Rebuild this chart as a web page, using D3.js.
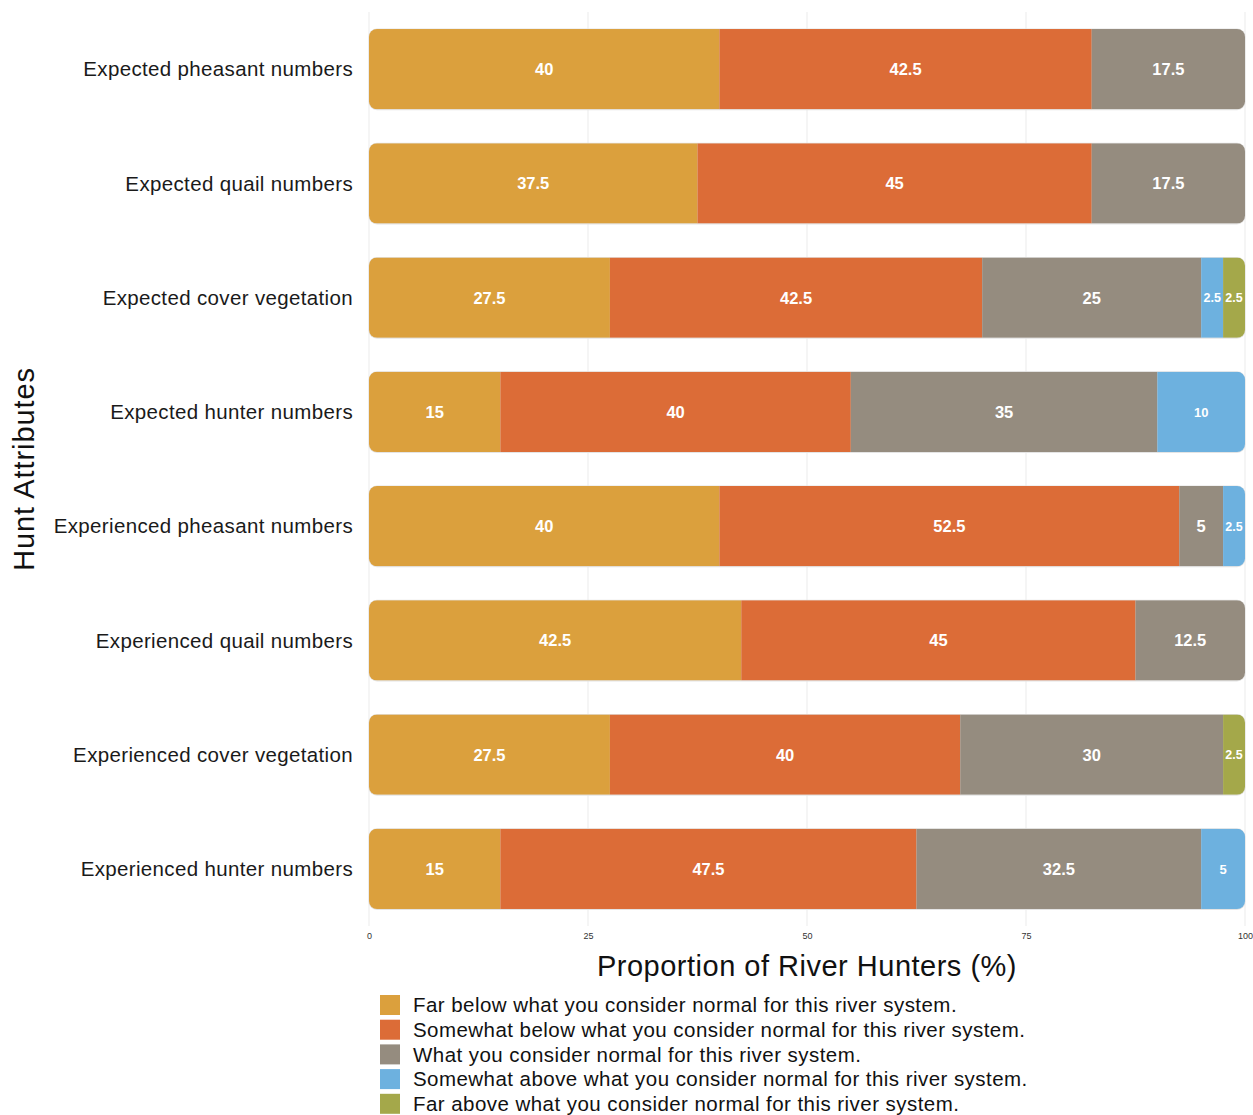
<!DOCTYPE html>
<html>
<head>
<meta charset="utf-8">
<script src="https://cdn.jsdelivr.net/npm/d3@7"></script>
<style>
  html, body { margin: 0; padding: 0; background: #fff; }
  svg { display: block; font-family: "Liberation Sans", Arial, Helvetica, sans-serif; }
</style>
</head>
<body>
<svg id="chart" width="1253" height="1115"></svg>
<script>
// Survey attributes (top to bottom)
const categories = [
  "Expected pheasant numbers",
  "Expected quail numbers",
  "Expected cover vegetation",
  "Expected hunter numbers",
  "Experienced pheasant numbers",
  "Experienced quail numbers",
  "Experienced cover vegetation",
  "Experienced hunter numbers"
];

// Response levels
const seriesNames = [
  "Far below what you consider normal for this river system.",
  "Somewhat below what you consider normal for this river system.",
  "What you consider normal for this river system.",
  "Somewhat above what you consider normal for this river system.",
  "Far above what you consider normal for this river system."
];

// Percent of river hunters per response, one array per level
const farBelow      = [40,   37.5, 27.5, 15, 40,   42.5, 27.5, 15];
const somewhatBelow = [42.5, 45,   42.5, 40, 52.5, 45,   40,   47.5];
const normal        = [17.5, 17.5, 25,   35, 5,    12.5, 30,   32.5];
const somewhatAbove = [0,    0,    2.5,  10, 2.5,  0,    0,    5];
const farAbove      = [0,    0,    2.5,  0,  0,    0,    2.5,  0];

const tickValues = [0, 25, 50, 75, 100];
const colors = ["#DBA03D", "#DC6C37", "#958C7F", "#6DB1DF", "#A4A84A"];

const seriesValues = [farBelow, somewhatBelow, normal, somewhatAbove, farAbove];
const rows = categories.map((c, i) => {
  const r = { category: c };
  seriesNames.forEach((s, k) => { r[s] = seriesValues[k][i]; });
  return r;
});

const svg = d3.select("#chart");
const margin = { left: 369, right: 8 };
const W = 1253;

const x = d3.scaleLinear().domain([0, 100]).range([margin.left, W - margin.right]);
const y = d3.scaleBand().domain(categories).range([12, 926]).paddingInner(0.297).paddingOuter(0.149);

// Gridlines
svg.append("g")
  .selectAll("line")
  .data(tickValues)
  .join("line")
  .attr("x1", d => x(d)).attr("x2", d => x(d))
  .attr("y1", 12).attr("y2", 926)
  .attr("stroke", "#eeeeee")
  .attr("stroke-width", 1.2);

const stack = d3.stack().keys(seriesNames)(rows);

const defs = svg.append("defs");
categories.forEach((c, i) => {
  defs.append("clipPath").attr("id", "clip" + i)
    .append("rect")
    .attr("x", x(0)).attr("y", y(c))
    .attr("width", x(100) - x(0)).attr("height", y.bandwidth())
    .attr("rx", 8).attr("ry", 8);
});

// Soft outline under each bar
svg.append("g")
  .selectAll("rect")
  .data(categories)
  .join("rect")
  .attr("x", x(0) - 0.5).attr("y", d => y(d) - 0.5)
  .attr("width", x(100) - x(0) + 1).attr("height", y.bandwidth() + 1.5)
  .attr("rx", 8.5).attr("fill", "#e4e4e4");

// Stacked segments, clipped to a rounded bar
const barG = svg.append("g");
categories.forEach((c, i) => {
  const g = barG.append("g").attr("clip-path", `url(#clip${i})`);
  stack.forEach((layer, k) => {
    const d = layer[i];
    if (d[1] - d[0] <= 0) return;
    g.append("rect")
      .attr("x", x(d[0])).attr("y", y(c))
      .attr("width", x(d[1]) - x(d[0])).attr("height", y.bandwidth())
      .attr("fill", colors[k]);
  });
});

// Value labels
const labelG = svg.append("g");
categories.forEach((c, i) => {
  stack.forEach((layer, k) => {
    const d = layer[i];
    const v = d[1] - d[0];
    if (v <= 0) return;
    const small = k >= 3;
    labelG.append("text")
      .attr("x", (x(d[0]) + x(d[1])) / 2)
      .attr("y", y(c) + y.bandwidth() / 2)
      .attr("dy", "0.36em")
      .attr("text-anchor", "middle")
      .attr("fill", "#ffffff")
      .attr("font-weight", "bold")
      .attr("font-size", small ? (v < 5 ? 12.5 : 13) : 16.5)
      .text(v);
  });
});

// Category labels
svg.append("g")
  .selectAll("text")
  .data(categories)
  .join("text")
  .attr("x", 353)
  .attr("y", d => y(d) + y.bandwidth() / 2)
  .attr("dy", "0.35em")
  .attr("text-anchor", "end")
  .attr("font-size", 20.5)
  .attr("letter-spacing", 0.35)
  .attr("fill", "#1a1a1a")
  .text(d => d);

// X axis tick labels
const xAxis = d3.axisBottom(x).tickValues(tickValues).tickSize(0).tickPadding(0);
const ax = svg.append("g").attr("transform", "translate(0,933)").call(xAxis);
ax.select(".domain").remove();
ax.selectAll("text").attr("font-size", 9).attr("fill", "#333").attr("dy", "0.71em")
  .attr("font-family", "\"Liberation Sans\", Arial, sans-serif");

// Axis titles
svg.append("text")
  .attr("x", 807).attr("y", 976)
  .attr("text-anchor", "middle")
  .attr("font-size", 29)
  .attr("letter-spacing", 0.5)
  .attr("fill", "#111")
  .text("Proportion of River Hunters (%)");

svg.append("text")
  .attr("transform", "translate(34,469) rotate(-90)")
  .attr("text-anchor", "middle")
  .attr("font-size", 29)
  .attr("letter-spacing", 0.9)
  .attr("fill", "#111")
  .text("Hunt Attributes");

// Legend
const legend = svg.append("g")
  .selectAll("g")
  .data(seriesNames)
  .join("g")
  .attr("transform", (d, i) => `translate(380,${995 + i * 24.7})`);
legend.append("rect").attr("width", 20).attr("height", 20).attr("fill", (d, i) => colors[i]);
legend.append("text")
  .attr("x", 33).attr("y", 10).attr("dy", "0.35em")
  .attr("font-size", 20.5)
  .attr("letter-spacing", 0.45)
  .attr("fill", "#111")
  .text(d => d);
</script>
</body>
</html>
